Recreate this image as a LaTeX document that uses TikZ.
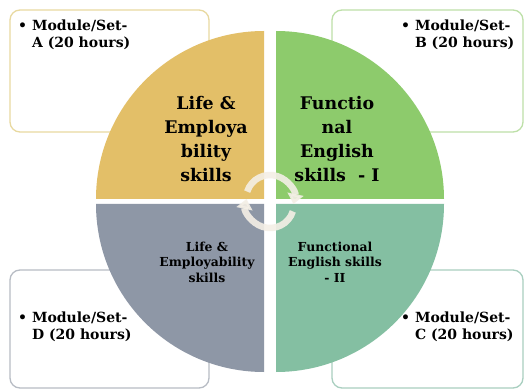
\documentclass[tikz,border=0pt]{standalone}
\usepackage{fontspec}
\setmainfont{DejaVu Serif}
\usetikzlibrary{arrows.meta}
\definecolor{qA}{HTML}{E3BF68}
\definecolor{qB}{HTML}{8DCB6C}
\definecolor{qC}{HTML}{84BFA2}
\definecolor{qD}{HTML}{8E97A6}
\definecolor{bA}{HTML}{E8D9A0}
\definecolor{bB}{HTML}{BDE0A8}
\definecolor{bC}{HTML}{A9CFC0}
\definecolor{bD}{HTML}{B7BCC4}
\definecolor{arr}{HTML}{F4EFE6}
\tikzset{
  modbox/.style={rounded corners=10pt, line width=1.3pt, fill=white},
  modtext/.style={anchor=north west, inner sep=0pt, align=left, font=\fontsize{14}{17}\selectfont\bfseries},
  bigtext/.style={align=center, inner sep=0pt, font=\fontsize{17.4}{24}\selectfont\bfseries},
  smalltext/.style={align=center, inner sep=0pt, font=\fontsize{12.4}{15.5}\selectfont\bfseries},
  cyc/.style={draw=arr, line width=6.5pt, -{Triangle[width=16pt,length=10pt]}}
}
\newcommand{\modl}[1]{\textbullet\ Module/Set-\\\hphantom{\textbullet\ }#1 (20 hours)}
\begin{document}
\begin{tikzpicture}[x=1pt,y=-1pt]
\useasboundingbox (0,0) rectangle (525,390);
\fill[white] (0,0) rectangle (525,390);
% boxes
\draw[modbox, draw=bA] (10,10) rectangle (209,132);
\draw[modbox, draw=bB] (332,10) rectangle (523,132);
\draw[modbox, draw=bD] (10,270) rectangle (209,388);
\draw[modbox, draw=bC] (332,270) rectangle (523,388);
% quadrants
\fill[qA] (264,199) -- ++(180:168) arc[start angle=180, end angle=270, radius=168] -- cycle;
\fill[qB] (276,199) -- ++(270:168) arc[start angle=270, end angle=360, radius=168] -- cycle;
\fill[qD] (264,204) -- ++(90:168) arc[start angle=90, end angle=180, radius=168] -- cycle;
\fill[qC] (276,204) -- ++(0:168) arc[start angle=0, end angle=90, radius=168] -- cycle;
% box texts
\node[modtext] (ta) at (18,20) {\modl{A}};
\node[modtext] (tb) at (401,20) {\modl{B}};
\node[modtext] (td) at (18,312) {\modl{D}};
\node[modtext] (tc) at (401,312) {\modl{C}};
% quadrant texts
\node[bigtext] (la) at (206,139) {Life \&\\Employa\\bility\\skills};
\node[bigtext] (lb) at (337,139) {Functio\\nal\\English\\skills~ - I};
\node[smalltext] (ld) at (207,262) {Life \&\\Employability\\skills};
\node[smalltext] (lc) at (335,262) {Functional\\English skills\\- II};
% cycle arrows
\coordinate (ct) at (270,199);
\coordinate (cb) at (270,204);
\draw[cyc, opacity=0.9] (ct) ++(198:24) arc[start angle=198, end angle=372, radius=24];
\draw[cyc, opacity=0.9] (cb) ++(18:24) arc[start angle=18, end angle=192, radius=24];
\end{tikzpicture}
\end{document}
